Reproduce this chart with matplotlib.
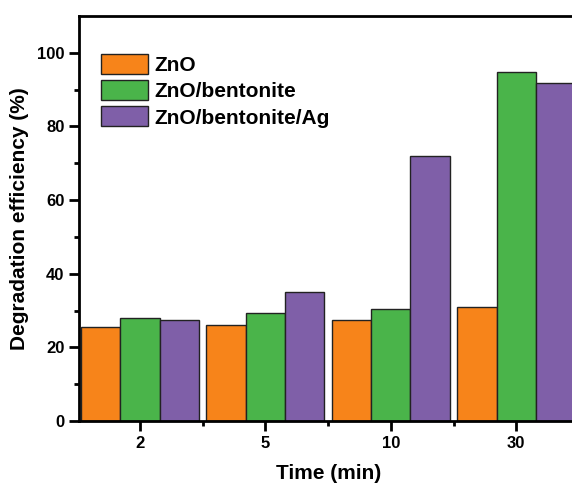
import matplotlib
matplotlib.use("Agg")
import matplotlib.pyplot as plt
import numpy as np

plt.rcParams['font.family'] = ['Liberation Sans', 'DejaVu Sans']
plt.rcParams['font.weight'] = 'bold'

categories = ['2', '5', '10', '30']
series_names = ['ZnO', 'ZnO/bentonite', 'ZnO/bentonite/Ag']
zno = [25.6, 26.1, 27.4, 30.9]
zno_bent = [27.9, 29.3, 30.4, 94.7]
zno_bent_ag = [27.4, 35.0, 72.0, 91.7]
colors = ['#F7841A', '#4AB44A', '#7F5FA8']

fig = plt.figure(figsize=(5.72, 4.84), dpi=100)
ax = fig.add_axes([79/572, 63/484, 500/572, 405/484])

x = np.arange(len(categories))
w = 0.314
for i, (vals, name, c) in enumerate(zip([zno, zno_bent, zno_bent_ag], series_names, colors)):
    ax.bar(x + (i - 1) * w, vals, w, color=c, edgecolor='#222222', linewidth=1.0, label=name)

ax.set_xlim(-0.485, 3.5)
ax.set_ylim(0, 110)
ax.set_xticks(x)
ax.set_xticklabels(categories)
ax.set_xticks(x[:-1] + 0.5, minor=True)
ax.set_yticks([0, 20, 40, 60, 80, 100])
ax.set_yticks([10, 30, 50, 70, 90], minor=True)

for s in ax.spines.values():
    s.set_linewidth(2)
ax.tick_params(axis='both', which='major', direction='out', length=7, width=2, labelsize=12)
ax.tick_params(axis='both', which='minor', direction='out', length=3.5, width=2)
for lab in ax.get_xticklabels() + ax.get_yticklabels():
    lab.set_fontweight('bold')

ax.set_xlabel('Time (min)', fontsize=15, fontweight='bold', labelpad=10)
ax.set_ylabel('Degradation efficiency (%)', fontsize=15, fontweight='bold', labelpad=6)

leg = ax.legend(loc='upper left', bbox_to_anchor=(0.028, 0.927), frameon=False,
                prop={'size': 15, 'weight': 'bold'}, handlelength=2.25, handleheight=1.1,
                labelspacing=0.25, handletextpad=0.3, borderaxespad=0)

fig.savefig('out.png', dpi=100)
